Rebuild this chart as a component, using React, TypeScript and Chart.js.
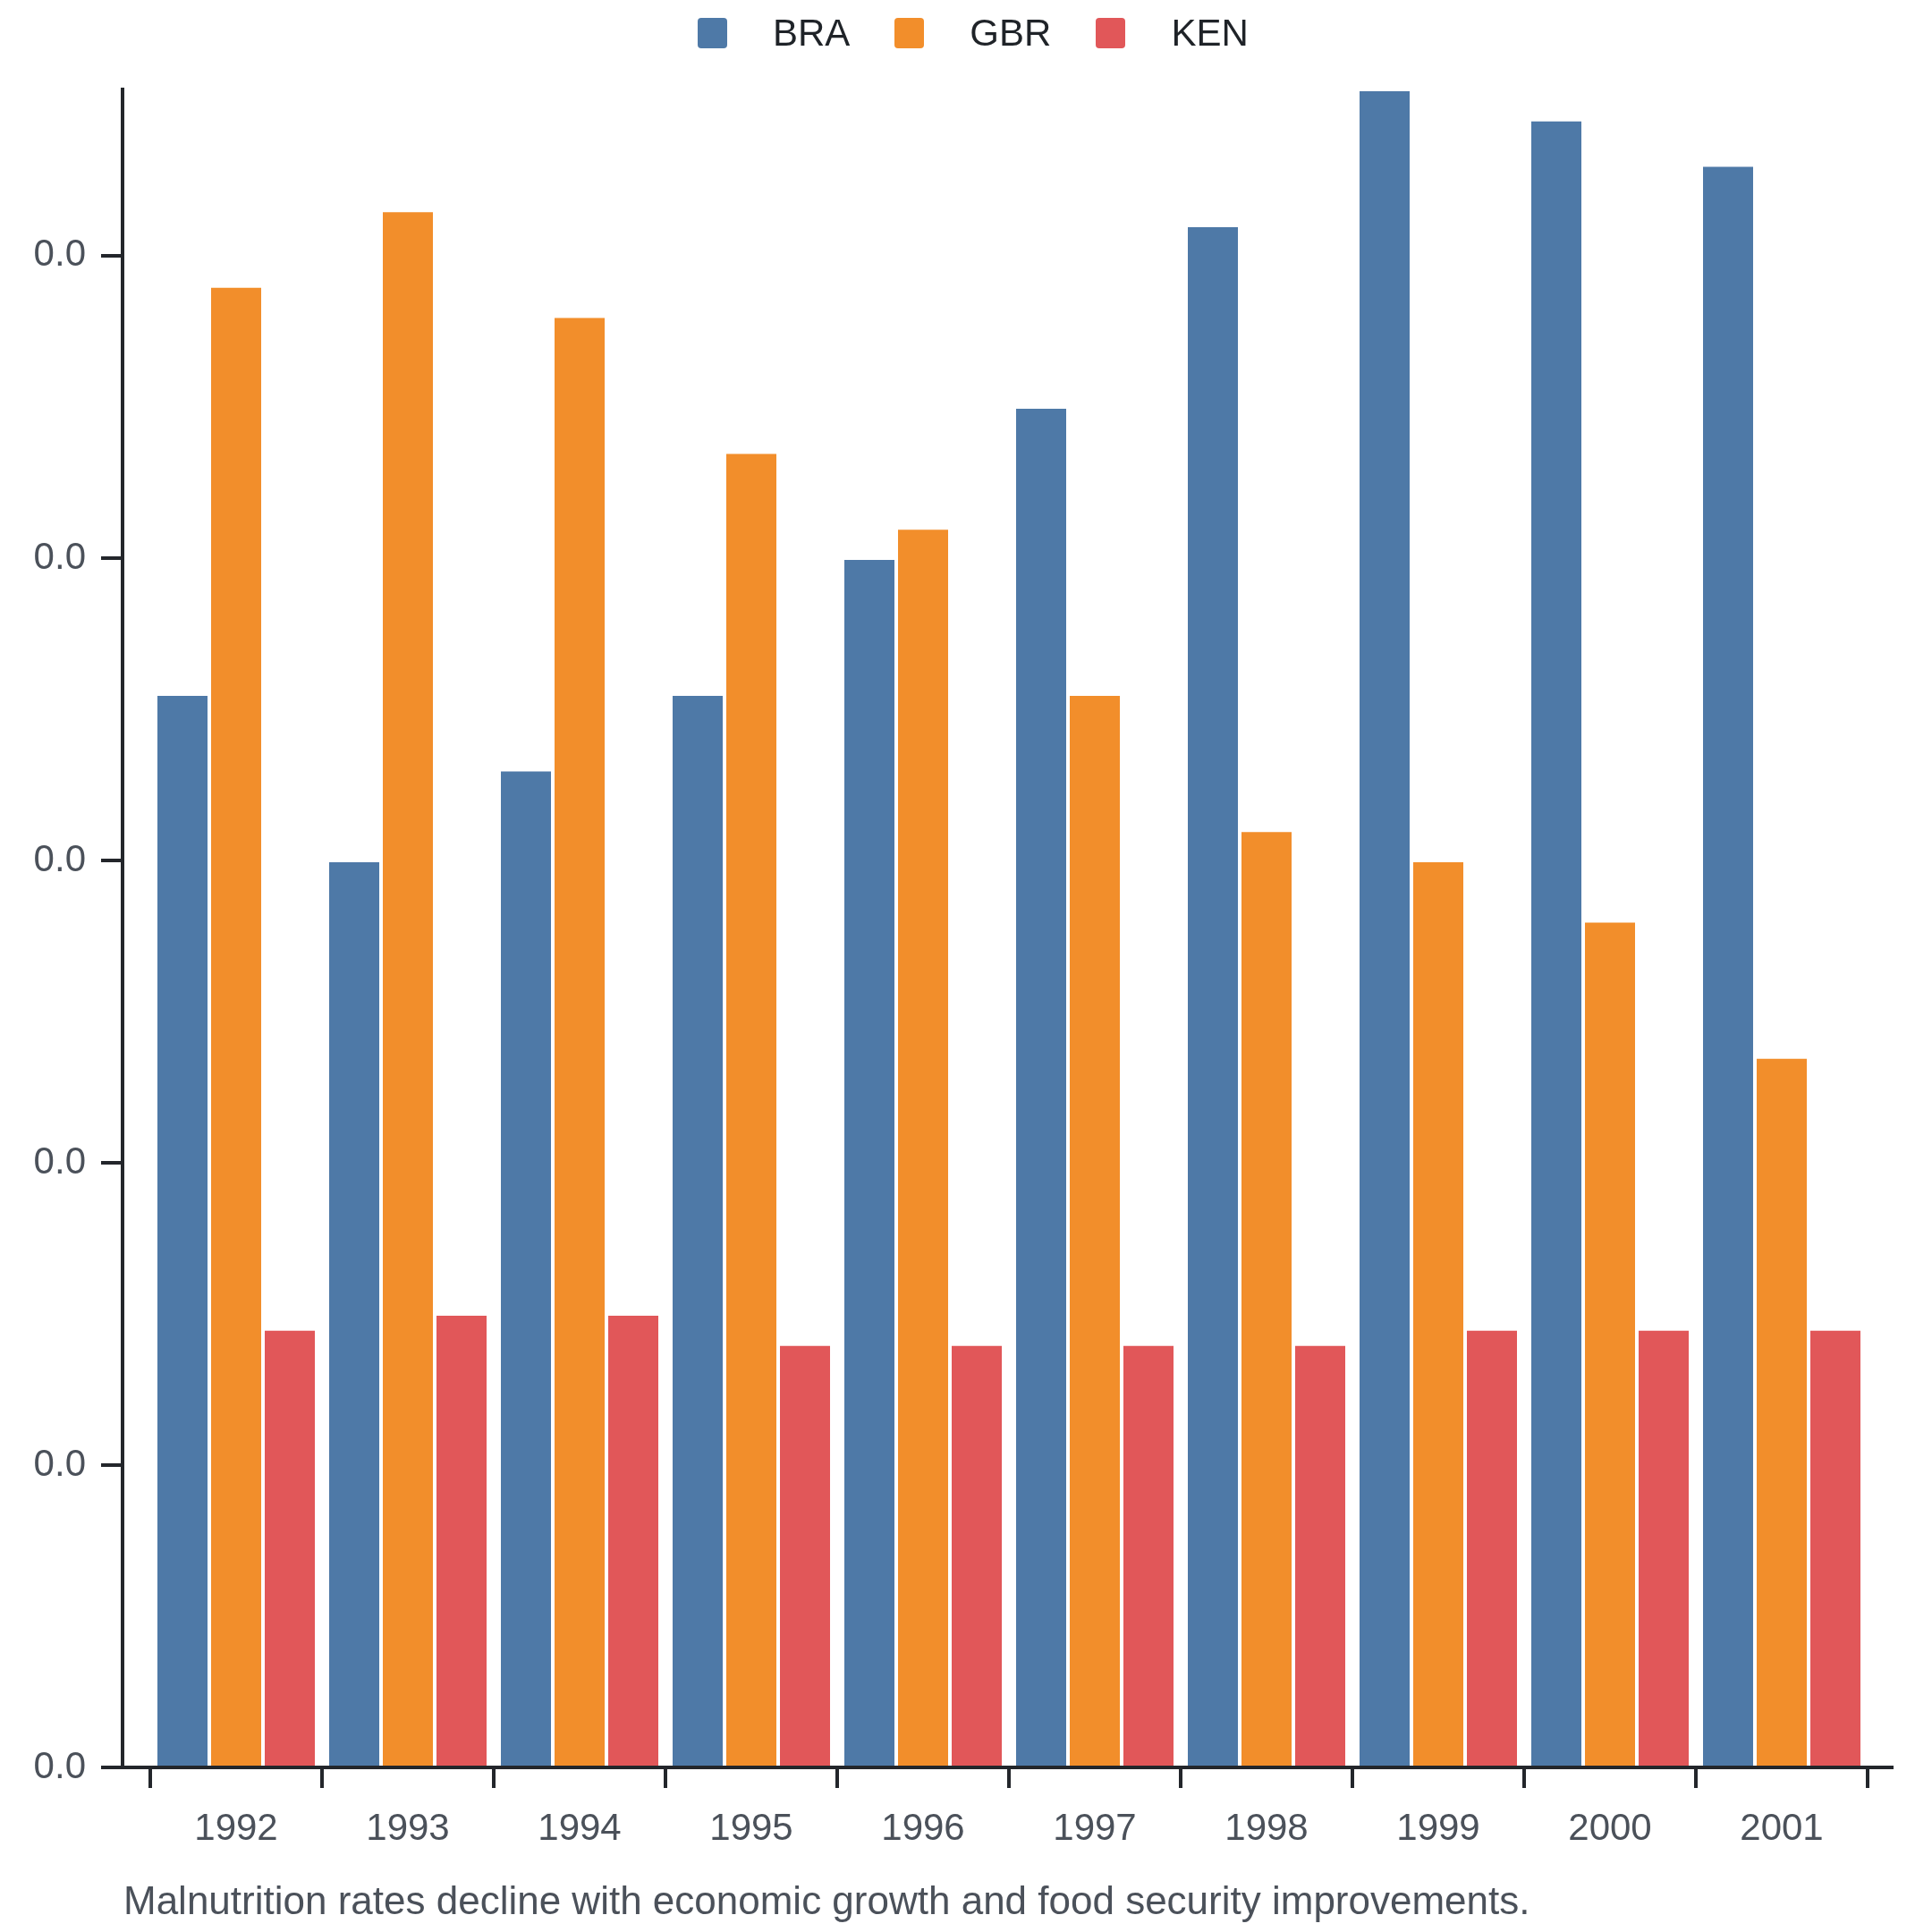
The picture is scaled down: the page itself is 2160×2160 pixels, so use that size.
import { useEffect, useRef } from 'react'
import { Chart, registerables } from 'chart.js'
Chart.register(...registerables)

const YEARS = ['1992', '1993', '1994', '1995', '1996', '1997', '1998', '1999', '2000', '2001']
const BRA = [0.0355, 0.0300, 0.0330, 0.0355, 0.0400, 0.0450, 0.0510, 0.0555, 0.0545, 0.0530]
const GBR = [0.0490, 0.0515, 0.0480, 0.0435, 0.0410, 0.0355, 0.0310, 0.0300, 0.0280, 0.0235]
const KEN = [0.0145, 0.0150, 0.0150, 0.0140, 0.0140, 0.0140, 0.0140, 0.0145, 0.0145, 0.0145]
const SERIES = [
    { label: 'BRA', data: BRA, color: '#4e79a7' },
    { label: 'GBR', data: GBR, color: '#f28e2b' },
    { label: 'KEN', data: KEN, color: '#e15759' },
]
const CAPTION = 'Malnutrition rates decline with economic growth and food security improvements.'

const FONT = '"Liberation Sans", Arial, sans-serif'
const AXIS = '#23262b'
const TICK_TEXT = '#4b515a'
const LW = 4

// x axis line runs a bit past the first/last category, like the reference
const axisLine = {
    id: 'axisLine',
    afterDraw(chart: Chart) {
        const { ctx, chartArea, scales } = chart
        const y = Math.round(scales.x.top)
        ctx.save()
        ctx.strokeStyle = AXIS
        ctx.lineWidth = LW
        ctx.beginPath()
        ctx.moveTo(scales.y.right - LW / 2, y)
        ctx.lineTo(chartArea.right + 29, y)
        ctx.stroke()
        ctx.restore()
    },
}

export default function App() {
    const canvasRef = useRef<HTMLCanvasElement>(null)
    const chartRef = useRef<Chart | null>(null)

    useEffect(() => {
        document.body.style.margin = '0'
        if (!canvasRef.current) return
        const ctx = canvasRef.current.getContext('2d')!
        chartRef.current?.destroy()
        const top = Math.max(...BRA, ...GBR, ...KEN)
        chartRef.current = new Chart(ctx, {
            type: 'bar',
            data: {
                labels: YEARS,
                datasets: SERIES.map(s => ({
                    label: s.label,
                    data: s.data,
                    backgroundColor: s.color,
                    borderColor: '#ffffff',
                    borderWidth: 2,
                    barPercentage: 1,
                    categoryPercentage: 0.9375,
                })),
            },
            options: {
                responsive: false,
                animation: false,
                layout: { padding: { top: 100, right: 72, bottom: 0, left: 0 } },
                plugins: {
                    legend: { display: false },
                    tooltip: { enabled: false },
                },
                scales: {
                    x: {
                        offset: true,
                        border: { display: false },
                        grid: { display: true, offset: true, drawOnChartArea: false, drawTicks: true, tickLength: 23, lineWidth: LW, color: AXIS },
                        ticks: { color: TICK_TEXT, padding: 21, font: { family: FONT, size: 42 }, maxRotation: 0 },
                        afterFit: (s: any) => { s.height = 184 },
                    },
                    y: {
                        weight: 1,
                        min: 0,
                        max: top,
                        border: { display: true, color: AXIS, width: LW },
                        grid: { display: true, drawOnChartArea: false, drawTicks: true, tickLength: 24, lineWidth: LW, color: AXIS },
                        ticks: {
                            stepSize: 0.01,
                            includeBounds: false,
                            color: TICK_TEXT,
                            padding: 17,
                            font: { family: FONT, size: 42 },
                            callback: (v: any) => (Math.trunc(Number(v) * 10 + 1e-9) / 10).toFixed(1),
                        },
                        afterFit: (s: any) => { s.width = 137 },
                    },
                    gap: {
                        type: 'linear',
                        position: 'left',
                        weight: 0,
                        border: { display: false },
                        grid: { display: false },
                        ticks: { display: false },
                        afterFit: (s: any) => { s.width = 31 },
                    },
                },
            },
            plugins: [axisLine],
        })
        return () => chartRef.current?.destroy()
    }, [])

    return (
        <div style={{ position: 'relative', width: 2160, height: 2160, background: '#fff', fontFamily: FONT }}>
            <canvas ref={canvasRef} width={2160} height={2160} style={{ display: 'block' }} />
            <div style={{ position: 'absolute', left: 780, top: 12, display: 'flex', alignItems: 'center', gap: 50 }}>
                {SERIES.map(s => (
                    <div key={s.label} style={{ display: 'flex', alignItems: 'center', gap: 51 }}>
                        <span style={{ width: 33, height: 34, background: s.color, borderRadius: 4, display: 'inline-block' }} />
                        <span style={{ fontSize: 42, lineHeight: '50px', color: '#1f2328' }}>{s.label}</span>
                    </div>
                ))}
            </div>
            <div style={{ position: 'absolute', left: 138, top: 2099, fontSize: 44, lineHeight: '52px', color: TICK_TEXT, whiteSpace: 'nowrap' }}>
                {CAPTION}
            </div>
        </div>
    )
}
